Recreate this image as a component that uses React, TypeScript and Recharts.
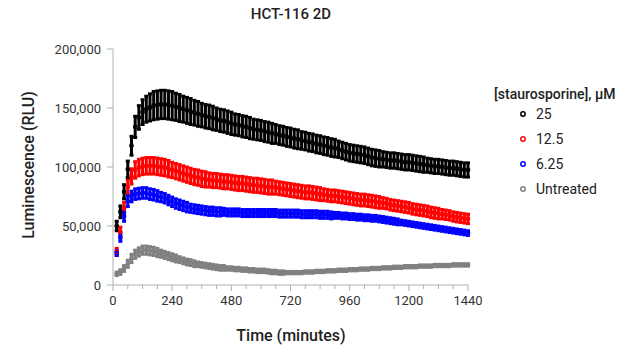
import { ScatterChart, Scatter, XAxis, YAxis, ErrorBar } from 'recharts'

if (typeof document !== 'undefined') document.body.style.margin = '0'

// minutes
const times = [
  15, 30, 45, 60, 75, 90, 105, 120,
  135, 150, 165, 180, 195, 210, 225, 240,
  255, 270, 285, 300, 315, 330, 345, 360,
  375, 390, 405, 420, 435, 450, 465, 480,
  495, 510, 525, 540, 555, 570, 585, 600,
  615, 630, 645, 660, 675, 690, 705, 720,
  735, 750, 765, 780, 795, 810, 825, 840,
  855, 870, 885, 900, 915, 930, 945, 960,
  975, 990, 1005, 1020, 1035, 1050, 1065, 1080,
  1095, 1110, 1125, 1140, 1155, 1170, 1185, 1200,
  1215, 1230, 1245, 1260, 1275, 1290, 1305, 1320,
  1335, 1350, 1365, 1380, 1395, 1410, 1425, 1440,
]

// luminescence, thousands of RLU
const stauro25 = [
  50, 62, 79, 98, 118, 134, 142, 146.5,
  149, 150.5, 152, 152.5, 153, 153, 152.5, 152,
  151, 150, 149, 148, 147, 146, 145, 144,
  143, 142.5, 141.5, 140.5, 139.5, 139, 138, 137,
  136, 135.5, 134.5, 134, 133, 132, 131.5, 131,
  130, 129.5, 128.5, 128, 127, 126.5, 125.5, 125,
  124, 123.5, 122.5, 122, 121, 120.5, 119.5, 119,
  118, 117.5, 116.5, 116, 115, 114, 113, 112,
  111.5, 111, 110.5, 110, 109, 108, 107.5, 107,
  106.5, 106, 105.5, 105.5, 105, 104.5, 104, 104,
  103.5, 103, 102.5, 102, 101.5, 101, 100.5, 100.5,
  100, 99.5, 99, 99, 98.5, 98, 97.5, 97.5,
]
const stauro25Err = [
  4, 5, 6, 7, 8, 9, 10, 10.5,
  11, 11.5, 12, 12, 12, 12, 12, 12,
  11.5, 11.5, 11, 11, 11, 10.5, 10.5, 10,
  10, 10, 10, 9.5, 9.5, 9.5, 9.5, 9.5,
  9, 9, 9, 9, 9, 8.5, 8.5, 8.5,
  8.5, 8.5, 8.5, 8, 8, 8, 8, 8,
  8, 8, 7.5, 7.5, 7.5, 7.5, 7.5, 7.5,
  7.5, 7.5, 7.5, 7.5, 7, 7, 7, 7,
  7, 7, 7, 7, 7, 7, 7, 7,
  6.5, 6.5, 6.5, 6.5, 6.5, 6.5, 6.5, 6.5,
  6.5, 6.5, 6.5, 6.5, 6, 6, 6, 6,
  6, 6, 6, 6, 6, 6, 6, 6,
]
const stauro12 = [
  28, 45, 65, 83, 92, 97.5, 99.5, 100.5,
  101, 101, 101, 100.5, 100, 99.5, 98.5, 97.5,
  96.5, 95.5, 94.5, 93.5, 92.5, 91.5, 91, 90,
  89.5, 89, 88.5, 88.5, 88, 87.5, 87.5, 87,
  86.5, 86, 86, 85.5, 85, 84.5, 84.5, 84,
  83.5, 83, 83, 82.5, 82, 81.5, 81, 80.5,
  80, 79.5, 79, 78.5, 78.5, 78, 77.5, 77,
  76.5, 76, 75.5, 75.5, 75, 74.5, 74, 73.5,
  73, 72.5, 72, 72, 71.5, 71, 70.5, 70,
  69.5, 69, 68, 67.5, 67, 66.5, 66, 65.5,
  64.5, 64, 63.5, 63, 62.5, 61.5, 61, 60.5,
  60, 59.5, 59, 58, 57.5, 57, 56.5, 56,
]
const stauro12Err = [
  3, 4, 5, 6, 6.5, 7, 7, 7,
  7, 7, 7, 7, 7, 7, 7, 6.5,
  6.5, 6.5, 6.5, 6.5, 6.5, 6.5, 6.5, 6.5,
  6.5, 6, 6, 6, 6, 6, 6, 6,
  6, 6, 6, 6, 6, 6, 6, 6,
  6, 6, 6, 5.5, 5.5, 5.5, 5.5, 5.5,
  5.5, 5.5, 5.5, 5.5, 5.5, 5.5, 5.5, 5.5,
  5, 5, 5, 5, 5, 5, 5, 5,
  5, 5, 5, 5, 5, 5, 5, 5,
  4.5, 4.5, 4.5, 4.5, 4.5, 4.5, 4.5, 4.5,
  4.5, 4.5, 4.5, 4.5, 4.5, 4.5, 4.5, 4.5,
  4, 4, 4, 4, 4, 4, 4, 4,
]
const stauro6 = [
  27, 40, 58, 71, 75, 77, 77.5, 78,
  78, 77, 76.5, 75.5, 74.5, 73.5, 72, 70.5,
  69, 68, 67, 66, 65, 64.5, 64, 63.5,
  63, 62.5, 62.5, 62, 62, 62, 61.5, 61.5,
  61.5, 61.5, 61, 61, 61, 61, 61, 61,
  61, 61, 61, 61, 60.5, 60.5, 60.5, 60.5,
  60.5, 60.5, 60, 60, 60, 60, 60, 59.5,
  59.5, 59.5, 59, 59, 59, 58.5, 58.5, 58,
  58, 57.5, 57.5, 57, 57, 56.5, 56.5, 56,
  55.5, 55, 54.5, 54, 53.5, 53, 52.5, 52,
  51.5, 51, 50.5, 50, 49.5, 49, 48.5, 48,
  47.5, 47, 46.5, 46, 45.5, 45, 44.5, 44,
]
const stauro6Err = [
  2, 3, 4, 4.5, 4.5, 4.5, 4.5, 4.5,
  4.5, 4.5, 4.5, 4.5, 4, 4, 4, 4,
  4, 4, 4, 4, 3.5, 3.5, 3.5, 3.5,
  3.5, 3.5, 3.5, 3.5, 3.5, 3, 3, 3,
  3, 3, 3, 3, 3, 3, 3, 3,
  3, 3, 3, 3, 3, 3, 3, 3,
  3, 3, 3, 3, 3, 3, 3, 3,
  3, 3, 3, 2.5, 2.5, 2.5, 2.5, 2.5,
  2.5, 2.5, 2.5, 2.5, 2.5, 2.5, 2.5, 2.5,
  2.5, 2.5, 2.5, 2.5, 2.5, 2, 2, 2,
  2, 2, 2, 2, 2, 2, 2, 2,
  2, 2, 2, 2, 2, 2, 2, 2,
]
const untreated = [
  9.5, 11, 14, 18, 22.5, 26, 28, 29.5,
  29.5, 29, 28.5, 27.5, 26.5, 25.5, 24.5, 23.5,
  22.5, 21.5, 20.5, 19.5, 19, 18, 17.5, 17,
  16.5, 16, 15.5, 15, 14.5, 14.5, 14, 14,
  13.5, 13.5, 13, 13, 12.5, 12.5, 12, 12,
  12, 11.5, 11, 11, 10.5, 10.5, 10.5, 10.5,
  10.5, 10.5, 10.5, 11, 11, 11, 11.5, 11.5,
  11.5, 12, 12, 12, 12.5, 12.5, 12.5, 13,
  13, 13, 13.5, 13.5, 13.5, 14, 14, 14,
  14.5, 14.5, 14.5, 15, 15, 15, 15.5, 15.5,
  15.5, 15.5, 16, 16, 16, 16, 16.5, 16.5,
  16.5, 16.5, 16.5, 17, 17, 17, 17, 17,
]
const untreatedErr = [
  1.5, 2, 2.5, 3, 3.5, 3.5, 3.5, 3.5,
  3.5, 3.5, 3.5, 3.5, 3, 3, 3, 3,
  3, 2.5, 2.5, 2.5, 2.5, 2.5, 2, 2,
  2, 2, 2, 2, 2, 2, 1.5, 1.5,
  1.5, 1.5, 1.5, 1.5, 1.5, 1.5, 1.5, 1.5,
  1.5, 1.5, 1.5, 1.5, 1.5, 1.5, 1, 1,
  1, 1, 1, 1, 1, 1, 1, 1,
  1, 1, 1, 1, 1, 1, 1, 1,
  1, 1, 1, 1, 1, 1, 1, 1,
  1, 1, 1, 1, 1, 1, 1, 1,
  1, 1, 1, 1, 1, 1, 1, 1,
  1, 1, 1, 1, 1, 1, 1, 1,
]

const xTicks = [0, 60, 120, 180, 240, 300, 360, 420, 480, 540, 600, 660, 720, 780, 840, 900, 960, 1020, 1080, 1140, 1200, 1260, 1320, 1380, 1440]
const yTicks = [0, 50000, 100000, 150000, 200000]

const seriesNames = ['25', '12.5', '6.25', 'Untreated']
const seriesColors = ['#000000', '#ff0000', '#0000ff', '#808080']

const build = (vals: number[], errs: number[]) =>
  times.map((t, i) => ({ t, y: vals[i] * 1000, e: errs[i] * 1000 }))

const series = [
  build(stauro25, stauro25Err),
  build(stauro12, stauro12Err),
  build(stauro6, stauro6Err),
  build(untreated, untreatedErr),
]

const FONT = 'Roboto, sans-serif'
const AXIS = '#b0b0b0'

const XTick = (props: any) => {
  const { x, y, payload } = props
  const major = payload.value % 240 === 0
  return (
    <g>
      <line x1={x} x2={x} y1={y} y2={y + (major ? 6 : 4)} stroke={AXIS} strokeWidth={1} />
      {major && (
        <text x={x} y={y + 20} textAnchor="middle" fontSize={13} fill="#333" fontFamily={FONT}>
          {payload.value}
        </text>
      )}
    </g>
  )
}

const dot = (color: string) => (p: any) =>
  <circle cx={p.cx} cy={p.cy} r={1.8} fill="none" stroke={color} strokeWidth={1.2} />

// draw untreated first, 25 µM last (on top)
const drawOrder = [3, 1, 2, 0]

export default function App() {
  return (
    <div style={{ position: 'relative', width: 640, height: 358, background: '#fff', fontFamily: FONT }}>
      <ScatterChart width={640} height={358} margin={{ top: 49, right: 172, bottom: 0, left: 0 }}>
        <XAxis
          type="number"
          dataKey="t"
          domain={[0, 1440]}
          ticks={xTicks}
          interval={0}
          height={73}
          stroke={AXIS}
          tickLine={false}
          tickSize={0}
          tickMargin={0}
          tick={<XTick />}
        />
        <YAxis
          type="number"
          dataKey="y"
          domain={[0, 200000]}
          ticks={yTicks}
          interval={0}
          width={113}
          stroke={AXIS}
          tickSize={6}
          tickMargin={6}
          tick={{ fontSize: 13, fill: '#333', fontFamily: FONT }}
          tickFormatter={(v: number) => v.toLocaleString('en-US')}
        />
        {drawOrder.map((i) => (
          <Scatter
            key={seriesNames[i]}
            name={seriesNames[i]}
            data={series[i]}
            fill={seriesColors[i]}
            shape={dot(seriesColors[i])}
            isAnimationActive={false}
          >
            <ErrorBar dataKey="e" direction="y" width={2} stroke={seriesColors[i]} strokeWidth={3} isAnimationActive={false} />
          </Scatter>
        ))}
      </ScatterChart>
      <svg width={640} height={358} style={{ position: 'absolute', left: 0, top: 0, pointerEvents: 'none' }}>
        <text x={291} y={19} textAnchor="middle" fontSize={15} fontWeight={500} fill="#222" fontFamily={FONT}>
          HCT-116 2D
        </text>
        <text x={291} y={341} textAnchor="middle" fontSize={16} fontWeight={500} fill="#222" fontFamily={FONT}>
          Time (minutes)
        </text>
        <text
          x={28}
          y={165}
          textAnchor="middle"
          fontSize={16}
          fontWeight={500}
          fill="#222"
          fontFamily={FONT}
          transform="rotate(-90 28 165)"
          dominantBaseline="central"
        >
          Luminescence (RLU)
        </text>
        <text x={494} y={99} fontSize={14} fontWeight={500} fill="#222" fontFamily={FONT}>
          [staurosporine], μM
        </text>
        {seriesNames.map((n, i) => (
          <g key={n}>
            <circle cx={523} cy={114 + i * 25} r={2.2} fill="none" stroke={seriesColors[i]} strokeWidth={1.5} />
            <text x={536} y={119 + i * 25} fontSize={14} fill="#222" fontFamily={FONT}>
              {n}
            </text>
          </g>
        ))}
      </svg>
    </div>
  )
}
